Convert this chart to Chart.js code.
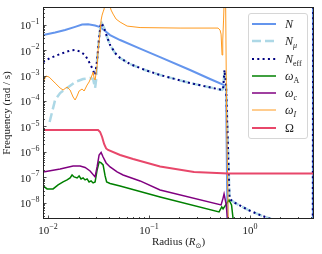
<!DOCTYPE html>
<html>
<head>
<meta charset="utf-8">
<script src="https://cdn.jsdelivr.net/npm/chart.js@4.4.1/dist/chart.umd.min.js"></script>
<style>
  body { margin: 0; background: #fff; }
  #wrap { position: relative; width: 322px; height: 254px; }
  #legend { position: absolute; left: 248px; top: 13px; width: 60px; height: 126px; box-sizing: border-box;
            border: 1px solid #d6d6d6; border-radius: 3px; background: rgba(255,255,255,0.85);
            font-family: "Liberation Serif", serif; font-size: 12px; color: #222; }
  .row { position: absolute; left: 0; height: 14px; width: 58px; }
  .row svg { position: absolute; left: 3px; top: 4px; }
  .lb { position: absolute; left: 36px; top: 0; line-height: 14px; white-space: nowrap; }
  .lb sub { font-size: 8px; vertical-align: -3px; line-height: 0; }
</style>
</head>
<body>
<div id="wrap">
  <canvas id="chart" width="322" height="254"></canvas>
  <div id="legend"></div>
</div>
<script>
// radius (R_sun) and frequency (rad/s) for each profile
const rN = [0.00892, 0.01173, 0.01473, 0.01851, 0.02171, 0.02489, 0.0292, 0.03273, 0.03669, 0.04111, 0.05163, 0.08143, 0.1285, 0.2546, 0.4018, 0.553, 0.5788, 0.6059, 4.15, 4.2];
const fN = [0.0394, 0.0494, 0.0619, 0.0827, 0.1018, 0.1037, 0.093, 0.0812, 0.0566, 0.0394, 0.0251, 0.0116, 0.00538, 0.00166, 0.000735, 0.000427, 0.000324, 1e-11, 1e-11, 1];

const rNmu = [0.01035, 0.01095, 0.01173, 0.01315, 0.01542, 0.01851, 0.02221, 0.02605, 0.0279, 0.0292, 0.02988, 0.03057, 0.03199, 0.0331, 0.0339, 0.03586, 0.03839, 0.04111, 0.04607, 0.05163, 0.06484, 0.0913, 0.1285, 0.2546, 0.5283, 0.5405, 0.5593, 0.5788, 0.6059, 0.6266, 0.7102, 0.9554, 1.285, 1.768, 2.49];
const fNmu = [1.5e-5, 3.71e-5, 1.1e-4, 2.07e-4, 3.26e-4, 5.61e-4, 7.35e-4, 8.04e-4, 7.35e-4, 3.26e-4, 6.72e-4, 0.0041, 0.03, 0.0973, 0.1166, 0.0742, 0.0329, 0.01594, 0.00773, 0.00491, 0.002856, 0.00166, 0.001056, 0.000512, 0.000272, 0.000298, 0.00166, 0.000427, 1.19e-6, 1.416e-8, 9.87e-9, 5.24e-9, 3.17e-9, 2.02e-9, 9.8e-10];

const rNeff = [0.00892, 0.01047, 0.01315, 0.01651, 0.01851, 0.02074, 0.02324, 0.02489, 0.02727, 0.0292, 0.03057, 0.03199, 0.0331, 0.0339, 0.03586, 0.03839, 0.04111, 0.04607, 0.05163, 0.06484, 0.0913, 0.1285, 0.2546, 0.5283, 0.5405, 0.5593, 0.5788, 0.6059, 0.6266, 0.7102, 0.9554, 1.285, 1.768, 2.49, 4.17, 4.22];
const fNeff = [0.00342, 0.00491, 0.00706, 0.0097, 0.01014, 0.00885, 0.00645, 0.0041, 0.00199, 0.001056, 0.0041, 0.03, 0.0973, 0.1166, 0.0742, 0.0329, 0.01594, 0.00773, 0.00491, 0.002856, 0.00166, 0.001056, 0.000512, 0.000272, 0.000298, 0.00166, 0.000427, 1.19e-6, 1.416e-8, 9.87e-9, 5.24e-9, 3.17e-9, 2.02e-9, 9.8e-10, 1e-11, 1];

const rA = [0.00892, 0.00977, 0.0112, 0.01256, 0.01407, 0.01542, 0.01651, 0.01728, 0.01809, 0.01937, 0.02027, 0.0212, 0.02221, 0.02324, 0.02433, 0.02546, 0.02665, 0.0279, 0.0292, 0.03057, 0.03199, 0.03349, 0.03505, 0.03669, 0.038, 0.04111, 0.05163, 0.1285, 0.4933, 0.5245, 0.5405, 0.5922, 0.6195, 0.6557, 0.679, 0.69];
const fA = [4.59e-8, 3.5e-8, 3.5e-8, 5.03e-8, 6.6e-8, 7.9e-8, 9.47e-8, 1.24e-7, 1.037e-7, 9.47e-8, 1.135e-7, 8.65e-8, 9.47e-8, 7.9e-8, 8.65e-8, 6.6e-8, 7.22e-8, 6.02e-8, 6.6e-8, 1.95e-7, 4.03e-7, 3.68e-7, 3.07e-7, 1.135e-7, 6.6e-8, 5.76e-8, 4.59e-8, 1.7e-8, 4.37e-9, 6.87e-9, 5.73e-9, 9.87e-9, 1.294e-8, 8.23e-9, 2.4e-9, 1e-9];

const rC = [0.00892, 0.01315, 0.01768, 0.02074, 0.02324, 0.02605, 0.0292, 0.03057, 0.03199, 0.03349, 0.03505, 0.03754, 0.04111, 0.04823, 0.05528, 0.08143, 0.1285, 0.5164, 0.5405, 0.553, 0.5788, 0.6059];
const fC = [1.63e-7, 2.14e-7, 2.81e-7, 2.81e-7, 2.45e-7, 1.78e-7, 1.037e-7, 2.56e-7, 7.59e-7, 9.5e-7, 6.33e-7, 3.68e-7, 2.56e-7, 1.63e-7, 1.24e-7, 7.22e-8, 3.2e-8, 8.23e-9, 1.525e-8, 2.23e-8, 9.0e-9, 1.5e-9];

const rI = [0.00892, 0.00955, 0.01023, 0.01173, 0.01315, 0.01407, 0.01542, 0.01651, 0.01768, 0.01851, 0.01937, 0.02027, 0.02171, 0.02272, 0.02433, 0.02546, 0.02727, 0.0279, 0.02853, 0.0292, 0.03057, 0.03126, 0.03273, 0.03349, 0.03426, 0.03505, 0.03586, 0.0371, 0.038, 0.0402, 0.04205, 0.04402, 0.04713, 0.05163, 0.0606, 0.08143, 0.2027, 0.4821, 0.5047, 0.5164, 0.5283, 0.5367, 0.5466, 0.5567, 0.5722, 0.5854, 0.61];
const fI = [0.000561, 0.000965, 0.000881, 0.000512, 0.000326, 0.000272, 0.000356, 0.000272, 0.000144, 0.00011, 0.000158, 0.000248, 0.000298, 0.000248, 0.000427, 0.000561, 0.001056, 0.001385, 0.000804, 0.000672, 0.00238, 0.01014, 0.0516, 0.153, 0.2405, 0.32, 0.414, 1.47, 1.5, 0.712, 0.378, 0.2633, 0.1675, 0.1277, 0.0889, 0.0776, 0.0742, 0.0742, 0.0619, 0.0431, 0.00645, 0.0251, 0.153, 1.47, 1.47, 4.45e-5, 1e-9];

const rO = [0.00892, 0.03126, 0.03273, 0.03426, 0.03586, 0.03754, 0.03927, 0.05163, 0.06943, 0.1285, 0.279, 0.6059, 4.3];
const fO = [7.29e-6, 7.29e-6, 6.08e-6, 3.87e-6, 2.05e-6, 1.366e-6, 1.193e-6, 7.59e-7, 5.28e-7, 2.68e-7, 1.63e-7, 1.42e-7, 1.42e-7];

const xDecades = [-2, -1, 0];
const yDecades = [-8, -7, -6, -5, -4, -3, -2, -1];

const pts = (r, f) => r.map((v, i) => ({ x: v, y: f[i] }));
const serif = '"Liberation Serif", "DejaVu Serif", serif';
const ink = '#222';

const series = [
    { key: 'N', data: pts(rN, fN), color: '#6495ED', width: 2, dash: [], order: 7, html: '<i>N</i>' },
    { key: 'Nmu', data: pts(rNmu, fNmu), color: '#ADD8E6', width: 2.5, dash: [9, 4], order: 6, html: '<i>N</i><sub><i>μ</i></sub>' },
    { key: 'Neff', data: pts(rNeff, fNeff), color: '#000080', width: 2, dash: [2, 3.3], order: 5, html: '<i>N</i><sub>eff</sub>' },
    { key: 'wA', data: pts(rA, fA), color: '#008000', width: 1.5, dash: [], order: 4, html: '<i>ω</i><sub>A</sub>' },
    { key: 'wc', data: pts(rC, fC), color: '#800080', width: 1.5, dash: [], order: 3, html: '<i>ω</i><sub><i>c</i></sub>' },
    { key: 'wI', data: pts(rI, fI), color: '#FF9A1F', width: 1, dash: [], order: 2, html: '<i>ω</i><sub><i>I</i></sub>' },
    { key: 'Om', data: pts(rO, fO), color: '#E8476A', width: 2, dash: [], order: 1, html: 'Ω' }
];

function drawPow(ctx, x, y, exp, align) {
    const base = '10';
    const sup = exp < 0 ? '\u2212' + Math.abs(exp) : String(exp);
    ctx.font = '11px ' + serif;
    const wb = ctx.measureText(base).width;
    ctx.font = '8px ' + serif;
    const ws = ctx.measureText(sup).width;
    const w = wb + ws;
    const x0 = align === 'right' ? x - w : x - w / 2;
    ctx.textAlign = 'left';
    ctx.textBaseline = 'middle';
    ctx.font = '11px ' + serif;
    ctx.fillText(base, x0, y + 1.5);
    ctx.font = '8px ' + serif;
    ctx.fillText(sup, x0 + wb, y - 3);
}

const axesPlugin = {
    id: 'axesPlugin',
    afterDraw(chart) {
        const { ctx, chartArea: a, scales: { x, y } } = chart;
        ctx.save();
        ctx.strokeStyle = ink;
        ctx.lineWidth = 0.8;
        ctx.beginPath();
        for (let e = -3; e <= 1; e++) {
            for (let m = 1; m <= 9; m++) {
                const v = m * Math.pow(10, e);
                if (v < x.min || v > x.max) continue;
                const px = Math.round(x.getPixelForValue(v)) + 0.5;
                ctx.moveTo(px, a.bottom);
                ctx.lineTo(px, a.bottom - (m === 1 ? 3.5 : 2));
            }
        }
        for (let e = -9; e <= 0; e++) {
            for (let m = 1; m <= 9; m++) {
                const v = m * Math.pow(10, e);
                if (v < y.min || v > y.max) continue;
                const py = Math.round(y.getPixelForValue(v)) + 0.5;
                ctx.moveTo(a.left, py);
                ctx.lineTo(a.left + (m === 1 ? 3.5 : 2), py);
            }
        }
        ctx.stroke();
        ctx.lineWidth = 1;
        ctx.strokeRect(Math.round(a.left) + 0.5, Math.round(a.top) + 0.5,
            Math.round(a.right - a.left) - 1, Math.round(a.bottom - a.top) - 1);

        ctx.fillStyle = ink;
        xDecades.forEach(e => drawPow(ctx, x.getPixelForValue(Math.pow(10, e)), a.bottom + 11, e, 'center'));
        yDecades.forEach(e => drawPow(ctx, a.left - 3.5, y.getPixelForValue(Math.pow(10, e)), e, 'right'));

        // x title with subscript sun symbol
        const parts = [
            ['Radius (', '11px ' + serif, 0],
            ['R', 'italic 11px ' + serif, 0],
            ['\u2299', '7px "DejaVu Sans", sans-serif', 2.5],
            [')', '11px ' + serif, 0]
        ];
        let total = 0;
        parts.forEach(p => { ctx.font = p[1]; total += ctx.measureText(p[0]).width; });
        let cx = (a.left + a.right) / 2 - total / 2;
        ctx.textBaseline = 'alphabetic';
        parts.forEach(p => {
            ctx.font = p[1];
            ctx.fillText(p[0], cx, 245 + p[2]);
            cx += ctx.measureText(p[0]).width;
        });
        ctx.restore();
    }
};

new Chart(document.getElementById('chart'), {
    type: 'line',
    data: {
        datasets: series.map(s => ({
            label: s.key,
            data: s.data,
            borderColor: s.color,
            borderWidth: s.width,
            borderDash: s.dash,
            order: s.order,
            pointRadius: 0,
            tension: 0,
            fill: false,
            clip: 0
        }))
    },
    options: {
        responsive: false,
        animation: false,
        devicePixelRatio: 1,
        layout: { padding: { left: 0, top: 7, right: 8, bottom: 0 } },
        plugins: { legend: { display: false }, tooltip: { enabled: false } },
        scales: {
            x: {
                type: 'logarithmic',
                min: 0.0089,
                max: 4.3,
                grid: { display: false, drawTicks: false },
                border: { display: false },
                ticks: { display: false },
                afterFit(scale) { scale.height = 35; }
            },
            y: {
                type: 'logarithmic',
                min: 2.3e-9,
                max: 0.5,
                grid: { display: false, drawTicks: false },
                border: { display: false },
                ticks: { display: false },
                title: { display: true, text: 'Frequency (rad / s)', color: ink, font: { family: serif, size: 11 }, padding: { top: 1, bottom: 0 } },
                afterFit(scale) { scale.width = 43; }
            }
        }
    },
    plugins: [axesPlugin]
});

// legend box, top-right inside the axes
const legend = document.getElementById('legend');
const rowTops = [3, 20, 37.5, 55, 72, 89, 107];
legend.innerHTML = series.map((s, i) => `
    <div class="row" style="top:${rowTops[i]}px">
        <svg width="24" height="6"><line x1="0" y1="3" x2="24" y2="3" stroke="${s.color}" stroke-width="${s.width}" stroke-dasharray="${s.dash.join(' ')}"/></svg>
        <span class="lb">${s.html}</span>
    </div>`).join('');
</script>
</body>
</html>
